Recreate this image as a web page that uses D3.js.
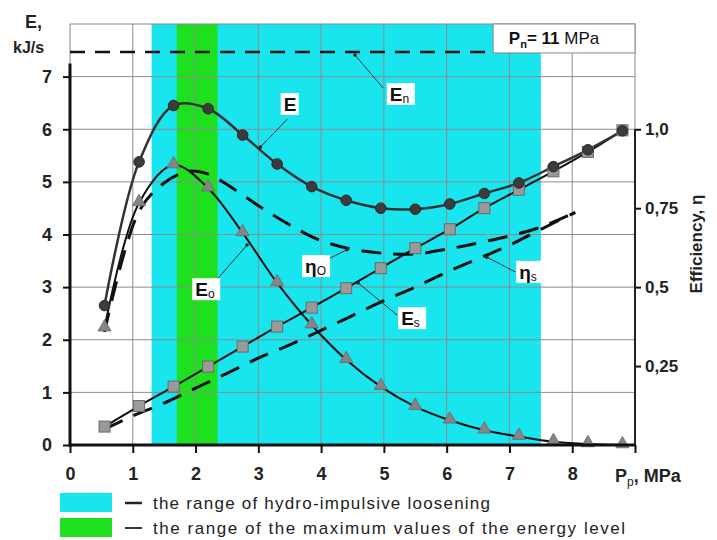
<!DOCTYPE html>
<html>
<head>
<meta charset="utf-8">
<script src="https://cdn.jsdelivr.net/npm/d3@7"></script>
<style>
  body { margin: 0; background: #fff; }
  svg { font-family: "Liberation Sans", Arial, sans-serif; }
</style>
</head>
<body>
<script>
// pressure values where the markers sit (MPa)
var pressure = [0.55, 1.1, 1.65, 2.2, 2.75, 3.3, 3.85, 4.4, 4.95, 5.5, 6.05, 6.6, 7.15, 7.7, 8.25, 8.8];
// energy series, kJ/s
var energyE  = [2.65, 5.38, 6.45, 6.39, 5.89, 5.34, 4.91, 4.65, 4.5, 4.48, 4.58, 4.78, 4.98, 5.29, 5.61, 5.97];
var energyEo = [2.22, 4.6, 5.32, 4.88, 4.03, 3.08, 2.28, 1.62, 1.11, 0.73, 0.47, 0.28, 0.16, 0.06, 0.02, 0.0];
var energyEs = [0.35, 0.74, 1.11, 1.49, 1.87, 2.25, 2.61, 2.98, 3.36, 3.74, 4.1, 4.5, 4.85, 5.2, 5.57, 5.98];
// nominal energy level
var energyEn = 7.47;
var nominalEnd = 6.65;

// efficiency curves (dashed)
var etaOx = [0.55, 1.1, 1.5, 1.9, 2.2, 2.5, 3.0, 3.5, 4.0, 4.5, 5.0, 5.5, 6.0, 6.5, 7.0, 7.5, 8.05];
var etaO  = [0.358, 0.74, 0.83, 0.867, 0.858, 0.825, 0.758, 0.697, 0.647, 0.62, 0.607, 0.605, 0.62, 0.64, 0.662, 0.69, 0.737];
var etaSx = [0.55, 1.0, 1.5, 2.0, 2.5, 3.0, 3.5, 4.0, 4.5, 5.0, 5.5, 6.0, 6.5, 7.0, 7.5, 8.05];
var etaS  = [0.05, 0.092, 0.133, 0.18, 0.227, 0.275, 0.317, 0.363, 0.41, 0.457, 0.5, 0.547, 0.59, 0.633, 0.683, 0.737];

// shaded ranges
var looseningRange = [1.3, 7.5];
var maxEnergyRange = [1.7, 2.35];

var xTicks = [0, 1, 2, 3, 4, 5, 6, 7, 8, 9];
var yTicks = [0, 1, 2, 3, 4, 5, 6, 7];
var effTicks = [0.25, 0.5, 0.75, 1.0];

var legendItems = [
  "the range of hydro-impulsive loosening",
  "the range of the maximum values of the energy level"
];

var svg = d3.select("body").append("svg")
  .attr("width", 717)
  .attr("height", 540);

var x = d3.scaleLinear().domain([0, 9]).range([70, 635]);
var y = d3.scaleLinear().domain([0, 8]).range([445, 24]);
var yEff = d3.scaleLinear().domain([0, 8 / 6]).range([445, 24]);

var cyan = "#19e5ef", green = "#1fe01f";

// bands
svg.append("rect")
  .attr("x", x(looseningRange[0])).attr("y", y(8))
  .attr("width", x(looseningRange[1]) - x(looseningRange[0]))
  .attr("height", y(0) - y(8))
  .attr("fill", cyan);
svg.append("rect")
  .attr("x", x(maxEnergyRange[0])).attr("y", y(8))
  .attr("width", x(maxEnergyRange[1]) - x(maxEnergyRange[0]))
  .attr("height", y(0) - y(8))
  .attr("fill", green);

// grid
svg.append("g").selectAll("line")
  .data(xTicks.slice(1, 9)).enter().append("line")
  .attr("x1", d => x(d)).attr("x2", d => x(d))
  .attr("y1", y(0)).attr("y2", y(8))
  .attr("stroke", "#8c8c8c").attr("stroke-width", 1);
svg.append("g").selectAll("line")
  .data(yTicks.slice(1)).enter().append("line")
  .attr("x1", x(0)).attr("x2", x(9))
  .attr("y1", d => y(d)).attr("y2", d => y(d))
  .attr("stroke", "#8c8c8c").attr("stroke-width", 1);

// frame
svg.append("rect")
  .attr("x", x(0)).attr("y", y(8))
  .attr("width", x(9) - x(0)).attr("height", y(0) - y(8))
  .attr("fill", "none").attr("stroke", "#888").attr("stroke-width", 1);

// nominal energy dashed line
svg.append("line")
  .attr("x1", x(0)).attr("x2", x(nominalEnd))
  .attr("y1", y(energyEn)).attr("y2", y(energyEn))
  .attr("stroke", "#111").attr("stroke-width", 2.5)
  .attr("stroke-dasharray", "15,10");

// Pn box
var pnBox = svg.append("g");
pnBox.append("rect")
  .attr("x", x(6.74)).attr("y", y(8))
  .attr("width", x(9) - x(6.74)).attr("height", y(7.45) - y(8))
  .attr("fill", "#fff").attr("stroke", "#888");
var pnText = pnBox.append("text")
  .attr("x", x(6.99)).attr("y", y(7.45) - 9)
  .attr("font-size", 17).attr("fill", "#111");
pnText.append("tspan").attr("font-weight", "bold").text("P");
pnText.append("tspan").attr("font-weight", "bold").attr("font-size", 11).attr("dy", 4).text("n");
pnText.append("tspan").attr("font-weight", "bold").attr("dy", -4).text("= 11 ");
pnText.append("tspan").text("MPa");

var line = d3.line()
  .x(d => x(d[0]))
  .y(d => d[1])
  .curve(d3.curveCatmullRom.alpha(0.5));

function pts(xs, vs, scale) {
  return xs.map((v, i) => [v, scale(vs[i])]);
}

// dashed efficiency curves
svg.append("path")
  .attr("d", line(pts(etaSx, etaS, yEff)))
  .attr("fill", "none").attr("stroke", "#111").attr("stroke-width", 3)
  .attr("stroke-dasharray", "20,12");
svg.append("path")
  .attr("d", line(pts(etaOx, etaO, yEff)))
  .attr("fill", "none").attr("stroke", "#111").attr("stroke-width", 3)
  .attr("stroke-dasharray", "20,12");

// solid curves
svg.append("path")
  .attr("d", line(pts(pressure, energyEs, y)))
  .attr("fill", "none").attr("stroke", "#111").attr("stroke-width", 2);
svg.append("path")
  .attr("d", line(pts(pressure, energyEo, y)))
  .attr("fill", "none").attr("stroke", "#111").attr("stroke-width", 2);
svg.append("path")
  .attr("d", line(pts(pressure, energyE, y)))
  .attr("fill", "none").attr("stroke", "#333").attr("stroke-width", 2.5);

// markers
svg.append("g").selectAll("rect")
  .data(pressure).enter().append("rect")
  .attr("x", (d, i) => x(d) - 5.5).attr("y", (d, i) => y(energyEs[i]) - 5.5)
  .attr("width", 11).attr("height", 11)
  .attr("fill", "#9a9a9a").attr("stroke", "#6a6a6a").attr("stroke-width", 1);
var tri = d3.symbol().type(d3.symbolTriangle).size(75);
svg.append("g").selectAll("path")
  .data(pressure).enter().append("path")
  .attr("d", tri)
  .attr("transform", (d, i) => "translate(" + x(d) + "," + (y(energyEo[i]) - 1) + ")")
  .attr("fill", "#858585").attr("stroke", "#6a6a6a").attr("stroke-width", 0.8);
svg.append("g").selectAll("circle")
  .data(pressure).enter().append("circle")
  .attr("cx", d => x(d)).attr("cy", (d, i) => y(energyE[i]))
  .attr("r", 5.3)
  .attr("fill", "#3b3b3b").attr("stroke", "#2a2a2a");

// curve labels with pointers
var labels = [
  {main: "E", sub: "", at: [3.5, 6.48], from: [3.47, 6.2], to: [3.03, 5.66]},
  {main: "E", sub: "n", at: [5.27, 6.67], from: [4.99, 6.78], to: [4.54, 7.41]},
  {main: "E", sub: "o", at: [2.17, 2.96], from: [2.36, 3.17], to: [2.82, 3.8]},
  {main: "η", sub: "O", at: [3.92, 3.4], from: [4.14, 3.55], to: [4.41, 3.71]},
  {main: "E", sub: "s", at: [5.45, 2.41], from: [5.21, 2.47], to: [4.59, 3.08]},
  {main: "η", sub: "s", at: [7.33, 3.29], from: [7.09, 3.29], to: [6.64, 3.57]}
];
var lab = svg.append("g").selectAll("g").data(labels).enter().append("g");
lab.append("line")
  .attr("x1", d => x(d.from[0])).attr("y1", d => y(d.from[1]))
  .attr("x2", d => x(d.to[0])).attr("y2", d => y(d.to[1]))
  .attr("stroke", "#333").attr("stroke-width", 1);
lab.append("circle")
  .attr("cx", d => x(d.to[0])).attr("cy", d => y(d.to[1]))
  .attr("r", 1.8).attr("fill", "#222");
lab.append("rect")
  .attr("x", d => x(d.at[0]) - (d.sub ? 14 : 9)).attr("y", d => y(d.at[1]) - 11)
  .attr("width", d => d.sub ? 28 : 18).attr("height", 22)
  .attr("fill", "#fff");
var lt = lab.append("text")
  .attr("x", d => x(d.at[0]) - (d.sub ? 11 : 6)).attr("y", d => y(d.at[1]) + 7)
  .attr("font-size", 19).attr("font-weight", "bold").attr("fill", "#111");
lt.append("tspan").text(d => d.main);
lt.append("tspan").attr("font-size", 12).attr("font-weight", "normal").attr("dy", 2).text(d => d.sub);

// axes
var xAxis = svg.append("g")
  .attr("transform", "translate(0," + y(0) + ")")
  .call(d3.axisBottom(x).tickValues(xTicks).tickSize(8).tickPadding(14)
    .tickFormat(d => d === 9 ? "" : d));
var yAxis = svg.append("g")
  .attr("transform", "translate(" + x(0) + ",0)")
  .call(d3.axisLeft(y).tickValues(yTicks).tickSize(7).tickPadding(11));
var rAxis = svg.append("g")
  .attr("transform", "translate(" + x(9) + ",0)")
  .call(d3.axisRight(yEff).tickValues(effTicks).tickSize(6).tickPadding(4)
    .tickFormat(d => d === 1 ? "1,0" : String(d).replace(".", ",")));
[xAxis, yAxis, rAxis].forEach(function(a) {
  a.select(".domain").remove();
  a.selectAll("line").attr("stroke", "#111").attr("stroke-width", 2);
  a.selectAll("text").attr("font-size", 18).attr("font-weight", "bold")
    .attr("fill", "#222").attr("font-family", "Liberation Sans, Arial, sans-serif");
});
rAxis.selectAll("text").attr("font-size", 17);

svg.append("line")
  .attr("x1", x(0)).attr("x2", x(9)).attr("y1", y(0)).attr("y2", y(0))
  .attr("stroke", "#111").attr("stroke-width", 3);
svg.append("line")
  .attr("x1", x(0)).attr("x2", x(0)).attr("y1", y(0) + 1.5).attr("y2", y(7.25))
  .attr("stroke", "#111").attr("stroke-width", 3);
svg.append("line")
  .attr("x1", x(9)).attr("x2", x(9)).attr("y1", y(0)).attr("y2", yEff(1))
  .attr("stroke", "#222").attr("stroke-width", 2);

// axis titles
svg.append("text").attr("x", 25).attr("y", 28)
  .attr("font-size", 18).attr("font-weight", "bold").attr("fill", "#222").text("E,");
svg.append("text").attr("x", 13).attr("y", 53)
  .attr("font-size", 16).attr("font-weight", "bold").attr("fill", "#222").text("kJ/s");
var px = svg.append("text").attr("x", 615).attr("y", 482)
  .attr("font-size", 18).attr("font-weight", "bold").attr("fill", "#222");
px.append("tspan").text("P");
px.append("tspan").attr("font-size", 12).attr("font-weight", "normal").attr("dy", 4).text("p");
px.append("tspan").attr("dy", -4).text(", MPa");
svg.append("text")
  .attr("transform", "translate(702,244) rotate(-90)")
  .attr("text-anchor", "middle")
  .attr("font-size", 17).attr("font-weight", "bold").attr("fill", "#222")
  .text("Efficiency, η");

// legend
var legend = svg.append("g").selectAll("g")
  .data(legendItems).enter().append("g")
  .attr("transform", (d, i) => "translate(60," + (493 + i * 25) + ")");
legend.append("rect")
  .attr("width", 52).attr("height", 19)
  .attr("fill", (d, i) => i === 0 ? cyan : green);
legend.append("line")
  .attr("x1", 65).attr("x2", 82).attr("y1", 10).attr("y2", 10)
  .attr("stroke", "#222").attr("stroke-width", (d, i) => i === 0 ? 2.5 : 1.8);
legend.append("text")
  .attr("x", 93).attr("y", 16)
  .attr("font-size", 17).attr("fill", "#222")
  .attr("textLength", (d, i) => i === 0 ? 337 : 472)
  .attr("lengthAdjust", "spacing")
  .text(d => d);
</script>
</body>
</html>
